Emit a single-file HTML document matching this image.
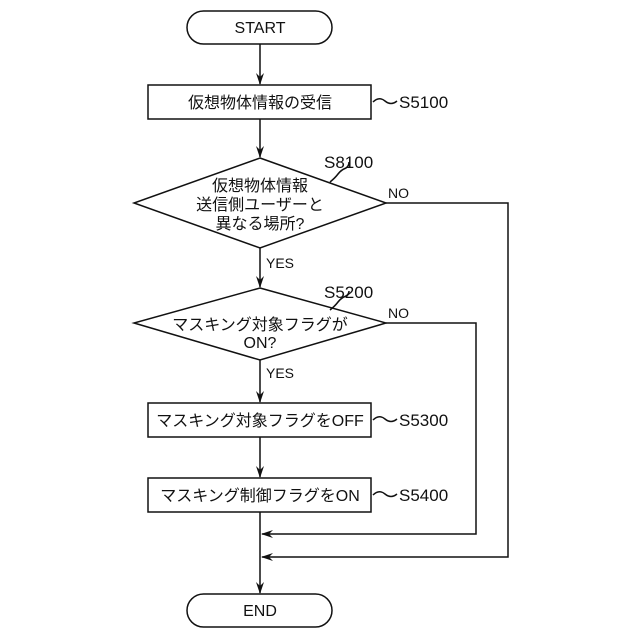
<!DOCTYPE html>
<html><head><meta charset="utf-8"><style>
html,body{margin:0;padding:0;background:#fff;}
svg{display:block;}
text{font-family:"Liberation Sans","Noto Sans CJK JP",sans-serif;fill:#111;}
</style></head><body>
<svg width="640" height="640" viewBox="0 0 640 640" xmlns="http://www.w3.org/2000/svg">
<g stroke="#111" stroke-width="1.5" fill="none">
<rect x="187" y="11" width="145" height="33" rx="16.5"/>
<rect x="148" y="85" width="223" height="34"/>
<polygon points="260,158 386,203 260,248 134,203"/>
<polygon points="260,288 386,323 260,360 134,323"/>
<rect x="148" y="403" width="223" height="34"/>
<rect x="148" y="478" width="223" height="34"/>
<rect x="187" y="594" width="145" height="33" rx="16.5"/>
<line x1="260" y1="44" x2="260" y2="84"/>
<line x1="260" y1="119" x2="260" y2="157"/>
<line x1="260" y1="248" x2="260" y2="287"/>
<line x1="260" y1="360" x2="260" y2="402"/>
<line x1="260" y1="437" x2="260" y2="477"/>
<line x1="260" y1="512" x2="260" y2="593"/>
<polyline points="386,203 508,203 508,557 262,557"/>
<polyline points="386,323 476,323 476,534 262,534"/>
<path d="M373,102 q6,-6 12,-1 q6,5 12,0" />
<path d="M373,420 q6,-6 12,-1 q6,5 12,0" />
<path d="M373,495 q6,-6 12,-1 q6,5 12,0" />
<path d="M330,182 q5,-4 8,-8 q3,-4 8,-6 q3,-2 3,-6" />
<path d="M330,310 q5,-4 8,-8 q3,-4 8,-6 q3,-2 3,-5" />
</g>
<g fill="#111">
<path d="M260,85 l-4,-12 l4,4 l4,-4 Z"/>
<path d="M260,158 l-4,-12 l4,4 l4,-4 Z"/>
<path d="M260,288 l-4,-12 l4,4 l4,-4 Z"/>
<path d="M260,403 l-4,-12 l4,4 l4,-4 Z"/>
<path d="M260,478 l-4,-12 l4,4 l4,-4 Z"/>
<path d="M260,594 l-4,-12 l4,4 l4,-4 Z"/>
<path d="M261,534 l12,-4 l-4,4 l4,4 Z"/>
<path d="M261,557 l12,-4 l-4,4 l4,4 Z"/>
</g>
<g font-size="16" text-anchor="middle">
<text x="260" y="33">START</text>
<text x="260" y="108">仮想物体情報の受信</text>
<text x="260" y="191">仮想物体情報</text>
<text x="260" y="210">送信側ユーザーと</text>
<text x="260" y="229">異なる場所?</text>
<text x="260" y="330">マスキング対象フラグが</text>
<text x="260" y="348">ON?</text>
<text x="260" y="426">マスキング対象フラグをOFF</text>
<text x="260" y="501">マスキング制御フラグをON</text>
<text x="260" y="616">END</text>
</g>
<g font-size="17">
<text x="399" y="108">S5100</text>
<text x="324" y="168">S8100</text>
<text x="324" y="298">S5200</text>
<text x="399" y="426">S5300</text>
<text x="399" y="501">S5400</text>
</g>
<g font-size="14">
<text x="388" y="198">NO</text>
<text x="388" y="318">NO</text>
<text x="266" y="268">YES</text>
<text x="266" y="378">YES</text>
</g>
</svg>
</body></html>
